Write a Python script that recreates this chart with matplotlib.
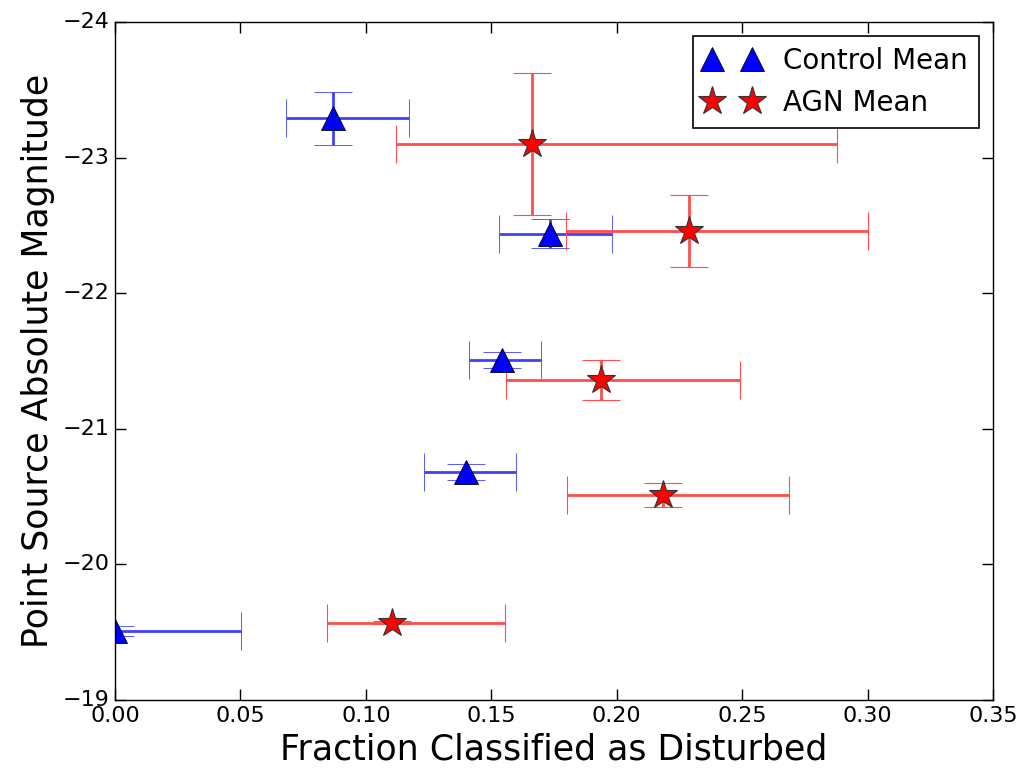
import matplotlib
matplotlib.use("Agg")
import matplotlib.pyplot as plt
from matplotlib.legend_handler import HandlerLine2D
import numpy as np

plt.style.use("classic")

# Control sample: fraction disturbed vs point-source magnitude
ctrl_frac = [0.087, 0.1736, 0.1544, 0.1398, 0.0]
ctrl_mag = [-23.29, -22.44, -21.51, -20.68, -19.51]
ctrl_frac_lo = [0.0189, 0.0205, 0.0132, 0.0166, 0.0]
ctrl_frac_hi = [0.0303, 0.0247, 0.0153, 0.0200, 0.0502]
ctrl_mag_err = [0.195, 0.11, 0.058, 0.058, 0.037]

# AGN sample
agn_frac = [0.1662, 0.2289, 0.1939, 0.2183, 0.1105]
agn_mag = [-23.10, -22.46, -21.36, -20.51, -19.57]
agn_frac_lo = [0.0543, 0.0493, 0.0379, 0.0380, 0.0258]
agn_frac_hi = [0.1215, 0.0712, 0.0554, 0.0502, 0.0449]
agn_mag_err = [0.525, 0.265, 0.151, 0.088, 0.012]

x_ticks = [0.00, 0.05, 0.10, 0.15, 0.20, 0.25, 0.30, 0.35]
y_ticks = [-24, -23, -22, -21, -20, -19]

fig = plt.figure(figsize=(10.22, 7.81), dpi=100, facecolor="white")
ax = fig.add_axes([0.1125, 0.1037, 0.8591, 0.8681])
ax.set_facecolor("white")

eb_kw = dict(capsize=14, elinewidth=2, capthick=1.8, linestyle="none")

c = ax.errorbar(ctrl_frac, ctrl_mag,
                xerr=[ctrl_frac_lo, ctrl_frac_hi], yerr=ctrl_mag_err,
                fmt="^", color="blue", mfc="blue", mec="black", mew=0.6,
                ms=17, ecolor=(0.25, 0.25, 1.0), label="Control Mean", **eb_kw)
a = ax.errorbar(agn_frac, agn_mag,
                xerr=[agn_frac_lo, agn_frac_hi], yerr=agn_mag_err,
                fmt="*", color="red", mfc="red", mec="#333333", mew=0.8,
                ms=21, ecolor=(1.0, 0.3, 0.3), label="AGN Mean", **eb_kw)

ax.set_xlim(0, 0.35)
ax.set_ylim(-19, -24)
ax.set_xticks(x_ticks)
ax.set_yticks(y_ticks)
ax.set_xticklabels([f"{t:.2f}" for t in x_ticks])
ax.tick_params(labelsize=16, length=8, width=1)

ax.set_xlabel("Fraction Classified as Disturbed", fontsize=25)
ax.set_ylabel("Point Source Absolute Magnitude", fontsize=25)

pair = HandlerLine2D(numpoints=2, marker_pad=0.3)
leg = ax.legend(handles=[c[0], a[0]], labels=["Control Mean", "AGN Mean"],
                loc="upper right", numpoints=2, fontsize=20,
                handler_map={c[0]: pair, a[0]: pair},
                borderaxespad=0.5, handlelength=2.04, handletextpad=0.82,
                labelspacing=0.5)
leg.get_frame().set_linewidth(1.2)

fig.savefig("out.png", dpi=100, facecolor="white")
